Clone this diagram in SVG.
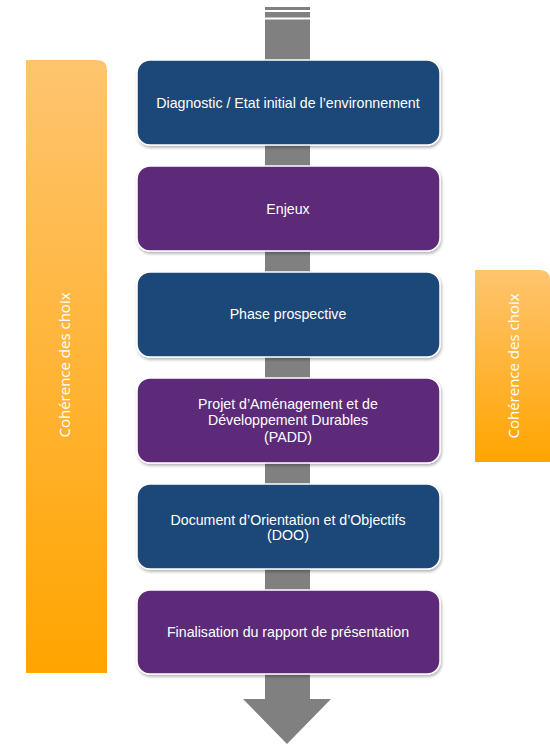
<svg xmlns="http://www.w3.org/2000/svg" width="550" height="744" viewBox="0 0 550 744">
<style>
.box{stroke:#ffffff;stroke-width:1.5;filter:url(#sh)}
.blue{fill:#1f4679}
.purple{fill:#5c2a78}
.t{font-family:"Liberation Sans",Arial,sans-serif;font-size:14.2px;fill:#ffffff;text-anchor:middle}
.v{font-family:"Open Sans",sans-serif;font-size:15px;fill:#ffffff;text-anchor:middle}
</style>
<defs>
<linearGradient id="og" x1="0" y1="0" x2="0" y2="1">
<stop offset="0" stop-color="#ffc46f"/>
<stop offset="1" stop-color="#ffa500"/>
</linearGradient>
<filter id="sh" x="-10%" y="-10%" width="120%" height="130%">
<feDropShadow dx="1" dy="2" stdDeviation="1.5" flood-color="#000" flood-opacity="0.3"/>
</filter>
</defs>
<g id="bar-left">
<path d="M26,60 H97 Q107,60 107,70 V673 H26 Z" fill="url(#og)"/>
<text class="v" transform="translate(70,365) rotate(-90)">Cohérence des choix</text>
</g>
<g id="bar-right">
<path d="M475,270 H540 Q550,270 550,280 V462 H475 Z" fill="url(#og)"/>
<text class="v" transform="translate(519,366) rotate(-90)">Cohérence des choix</text>
</g>
<g id="connectors">
<rect x="265" y="7" width="45" height="3" fill="#808080"/>
<rect x="265" y="12" width="45" height="5.5" fill="#808080"/>
<rect x="265" y="19.5" width="45" height="680" fill="#808080"/>
<polygon points="243,699 331,699 287,744" fill="#808080"/>
</g>
<g id="n1"><rect class="box blue" x="137" y="60" width="303" height="85" rx="13"/><text class="t" x="288" y="108">Diagnostic / Etat initial de l’environnement</text></g>
<g id="n2"><rect class="box purple" x="137" y="166" width="303" height="85" rx="13"/><text class="t" x="288" y="214">Enjeux</text></g>
<g id="n3"><rect class="box blue" x="137" y="272" width="303" height="85" rx="13"/><text class="t" x="288" y="319">Phase prospective</text></g>
<g id="n4"><rect class="box purple" x="137" y="378" width="303" height="85" rx="13"/><text class="t" x="288" y="409">Projet d’Aménagement et de</text><text class="t" x="288" y="425">Développement Durables</text><text class="t" x="288" y="442">(PADD)</text></g>
<g id="n5"><rect class="box blue" x="137" y="484" width="303" height="85" rx="13"/><text class="t" x="288" y="525">Document d’Orientation et d’Objectifs</text><text class="t" x="288" y="540">(DOO)</text></g>
<g id="n6"><rect class="box purple" x="137" y="590" width="303" height="84" rx="13"/><text class="t" x="288" y="637">Finalisation du rapport de présentation</text></g>
</svg>
